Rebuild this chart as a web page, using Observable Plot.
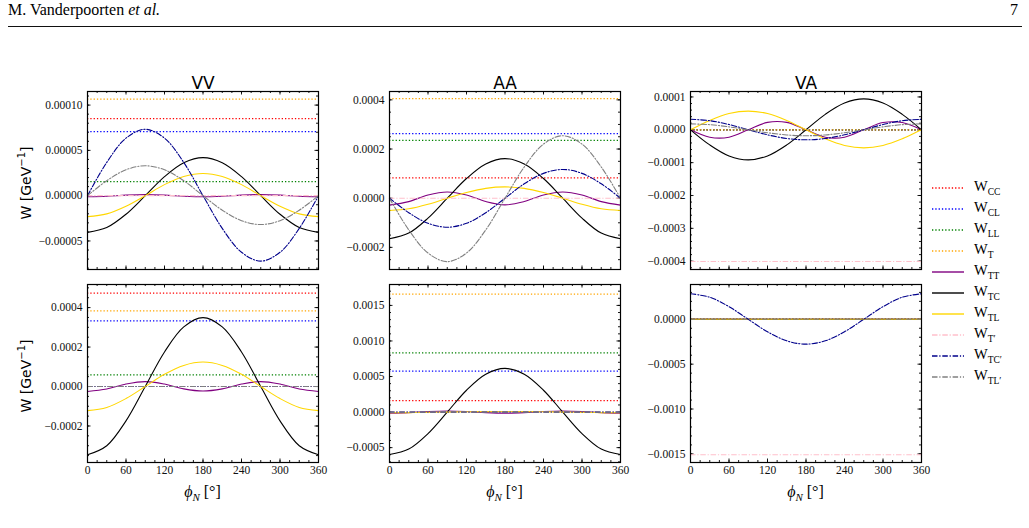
<!DOCTYPE html>
<html>
<head>
<meta charset="utf-8">
<script src="https://cdn.jsdelivr.net/npm/d3@7"></script>
<script src="https://cdn.jsdelivr.net/npm/@observablehq/plot@0.6"></script>
<style>
  body { margin: 0; background: #fff; }
  #page { position: relative; width: 1029px; height: 528px; overflow: hidden; background: #fff;
          font-family: "Liberation Serif", "DejaVu Serif", serif; color: #000; }
  .abs { position: absolute; white-space: nowrap; }
  .running { left: 8px; top: 1px; font-size: 16px; }
  .pageno { right: 11px; top: 1px; font-size: 16px; }
  .rule { left: 8px; top: 26px; width: 1014px; height: 0; border-top: 1.2px solid #111; }
  .ylab { font-family: "DejaVu Sans", sans-serif; font-size: 14px; transform: translate(-50%, -50%) rotate(-90deg); }
  .ylab sup { font-size: 10px; }
  .xlab { font-size: 16px; transform: translate(-50%, -50%); }
  .xlab sub { font-size: 11px; }
  .leg { left: 930px; height: 20px; display: flex; align-items: center; color: #000; }
  .leg svg { display: block; }
  .leg span { margin-left: 10px; font-size: 14.5px; color: #000; }
  .leg sub { font-size: 9.5px; }
</style>
</head>
<body>
<div id="page">
  <div class="abs running">M. Vanderpoorten <i>et al.</i></div>
  <div class="abs pageno">7</div>
  <div class="abs rule"></div>
</div>
<script>
// Azimuthal angle samples (degrees) for the φ_N-dependent terms
const phiDeg = [0, 30, 60, 90, 120, 150, 180, 210, 240, 270, 300, 330, 360];

// Structure-function series, in drawing order
const seriesKeys   = ["CC", "CL", "LL", "T", "TT", "TC", "TL", "T′", "TC′", "TL′"];
const seriesColors = ["red", "blue", "green", "orange", "purple", "black", "gold", "pink", "darkblue", "gray"];
const seriesStyle  = ["dot", "dot", "dot", "dot", "solid", "solid", "solid", "dashdot", "dashdot", "dashdot"];

// Values in units of 1e-6 GeV^-1; a single entry is a φ-independent level
const UNIT = 1e-6;

const vvUpper = [
  [85], [70.7], [15.4], [106.5],
  [-1.2, -0.6, 0.6, 1.2, 0.6, -0.6, -1.2, -0.6, 0.6, 1.2, 0.6, -0.6, -1.2],
  [-40.5, -35.2, -20.5, 0, 21, 36.4, 42, 36.4, 21, 0, -20.5, -35.2, -40.5],
  [-23.1, -20.1, -11.7, 0, 12.2, 21.2, 24.5, 21.2, 12.2, 0, -11.7, -20.1, -23.1],
  [0],
  [0, 36.7, 63.5, 73.3, 63.5, 36.7, 0, -36.1, -62.5, -72.2, -62.5, -36.1, 0],
  [0, 16.5, 28.6, 33, 28.6, 16.5, 0, -16, -27.6, -31.9, -27.6, -16, 0]
];

const aaUpper = [
  [83], [263], [235], [405],
  [-28, -14, 13, 25, 13, -13.5, -27, -13.5, 13, 25, 13, -14, -28],
  [-165, -142, -81, 0, 80, 139, 161, 139, 80, 0, -81, -142, -165],
  [-50, -43, -24.5, 0, 23, 40, 46, 40, 23, 0, -24.5, -43, -50],
  [0],
  [0, -59, -102, -118, -102, -59, 0, 58.5, 101, 117, 101, 58.5, 0],
  [0, -129, -223, -258, -223, -129, 0, 127, 220, 254, 220, 127, 0]
];

const vaUpper = [
  [0], [0], [0], [0],
  [0, -22.5, -22.5, 0, 22.5, 22.5, 0, -22.5, -22.5, 0, 22, 22, 0],
  [0, -46, -79.5, -91.5, -79.5, -46, 0, 47, 81.5, 94, 81.5, 47, 0],
  [0, 28.5, 49.5, 57, 49.5, 28.5, 0, -27.5, -47.6, -55, -47.6, -27.5, 0],
  [-401],
  [32, 27.7, 16, 0, -15.3, -26.5, -30.5, -26.5, -15.3, 0, 16, 27.7, 32],
  [18, 15.6, 9, 0, -9, -15.6, -18, -15.6, -9, 0, 9, 15.6, 18]
];

const vvLower = [
  [473], [333], [59], [383],
  [-25, -12.5, 12.5, 25, 12.5, -12, -23, -12, 12.5, 25, 12.5, -12.5, -25],
  [-346, -300, -174, 0, 175, 302, 349, 302, 175, 0, -174, -300, -346],
  [-122, -106, -61, 0, 62, 107, 124, 107, 62, 0, -61, -106, -122],
  [0], [0], [0]
];

const aaLower = [
  [162], [577], [832], [1660],
  [-15, -7.5, 7.5, 15, 7.5, -7.5, -15, -7.5, 7.5, 15, 7.5, -7.5, -15],
  [-596, -520, -302, 0, 307, 532, 614, 532, 307, 0, -302, -520, -596],
  [-8, -7, -4, 0, 4, 7, 8, 7, 4, 0, -4, -7, -8],
  [0], [0], [0]
];

const vaLower = [
  [0], [0], [0], [0], [0], [0], [0],
  [-1510],
  [285, 246, 141, 0, -139, -240, -277, -240, -139, 0, 141, 246, 285],
  [0]
];

// Axis ticks
const xTicks = [0, 60, 120, 180, 240, 300, 360];
const xMinorStep = 15;
const vvUpperTicks = [-0.00005, 0, 0.00005, 0.0001];
const aaUpperTicks = [-0.0002, 0, 0.0002, 0.0004];
const vaUpperTicks = [-0.0004, -0.0003, -0.0002, -0.0001, 0, 0.0001];
const vvLowerTicks = [-0.0002, 0, 0.0002, 0.0004];
const aaLowerTicks = [-0.0005, 0, 0.0005, 0.001, 0.0015];
const vaLowerTicks = [-0.0015, -0.001, -0.0005, 0];

const panelTitles = ["VV", "AA", "VA"];

// Frame geometry of the 3x2 grid
const colX = [87, 389, 690];
const rowY = [91, 284];
const FW = 231, FH = 178;
const ML = 80, MR = 10, MT = 40, MB = 50;

const lineWidth = {dot: 1.3, solid: 1.1, dashdot: 1.1};
const dashes = {dot: "1.3,2", solid: null, dashdot: "5.5,1.8,1.2,1.8"};
const tickFont = {fontFamily: "Liberation Serif, serif", fontSize: 11.5, fill: "#111"};

const page = document.getElementById("page");

function minorTicks(domain, step) {
  const lo = Math.ceil(domain[0] / step - 1e-9), hi = Math.floor(domain[1] / step + 1e-9);
  return d3.range(lo, hi + 1).map(k => k * step);
}

function addPanel({values, yDomain, yTicks, yMinorStep, yFormat, col, row}) {
  const marks = [];
  const xMinor = minorTicks([0, 360], xMinorStep);
  const yMinor = minorTicks(yDomain, yMinorStep);
  const tickStyle = {stroke: "black", strokeWidth: 0.9};
  // inward ticks on all four sides
  marks.push(
    Plot.tickX(xMinor, {...tickStyle, insetTop: FH - 2}),
    Plot.tickX(xMinor, {...tickStyle, insetBottom: FH - 2}),
    Plot.tickX(xTicks, {...tickStyle, insetTop: FH - 3.5}),
    Plot.tickX(xTicks, {...tickStyle, insetBottom: FH - 3.5}),
    Plot.tickY(yMinor, {...tickStyle, insetRight: FW - 2}),
    Plot.tickY(yMinor, {...tickStyle, insetLeft: FW - 2}),
    Plot.tickY(yTicks, {...tickStyle, insetRight: FW - 3.5}),
    Plot.tickY(yTicks, {...tickStyle, insetLeft: FW - 3.5})
  );
  values.forEach((v, i) => {
    const style = seriesStyle[i];
    const opts = {stroke: seriesColors[i], strokeWidth: lineWidth[style]};
    if (dashes[style]) opts.strokeDasharray = dashes[style];
    if (v.length === 1) {
      marks.push(Plot.ruleY([v[0] * UNIT], opts));
    } else {
      const table = phiDeg.map((p, j) => ({phi: p, w: v[j] * UNIT}));
      marks.push(Plot.line(table, {x: "phi", y: "w", curve: "catmull-rom", ...opts}));
    }
  });
  marks.push(Plot.frame({stroke: "black", strokeWidth: 1.2}));
  marks.push(Plot.axisY(yTicks, {tickSize: 0, tickPadding: 5, tickFormat: d3.format(yFormat), label: null, ...tickFont}));
  if (row === 1) {
    marks.push(Plot.axisX(xTicks, {tickSize: 0, tickPadding: 3, tickFormat: d => String(d), label: null, ...tickFont}));
  } else {
    marks.push(Plot.text([panelTitles[col]], {text: d => d, frameAnchor: "top", dy: -14.5,
      fontSize: 17, fontFamily: "DejaVu Sans, sans-serif", fill: "black"}));
  }
  const svg = Plot.plot({
    width: FW + ML + MR, height: FH + MT + MB,
    marginLeft: ML, marginRight: MR, marginTop: MT, marginBottom: MB,
    x: {domain: [0, 360], label: null, ...(row === 0 ? {axis: null} : {})},
    y: {domain: yDomain, label: null},
    style: {background: "transparent", overflow: "visible", color: "#111",
            fontFamily: "'Liberation Serif', serif", fontSize: "11.5px"},
    marks
  });
  const holder = document.createElement("div");
  holder.className = "abs";
  holder.style.left = (colX[col] - ML) + "px";
  holder.style.top = (rowY[row] - MT) + "px";
  holder.appendChild(svg);
  page.appendChild(holder);
}

addPanel({values: vvUpper, yDomain: [-8.15e-5, 1.15e-4], yTicks: vvUpperTicks, yMinorStep: 1e-5, yFormat: ".5f", col: 0, row: 0});
addPanel({values: aaUpper, yDomain: [-2.9e-4, 4.34e-4], yTicks: aaUpperTicks, yMinorStep: 5e-5, yFormat: ".4f", col: 1, row: 0});
addPanel({values: vaUpper, yDomain: [-4.253e-4, 1.166e-4], yTicks: vaUpperTicks, yMinorStep: 2e-5, yFormat: ".4f", col: 2, row: 0});
addPanel({values: vvLower, yDomain: [-3.85e-4, 5.17e-4], yTicks: vvLowerTicks, yMinorStep: 5e-5, yFormat: ".4f", col: 0, row: 1});
addPanel({values: aaLower, yDomain: [-7.09e-4, 1.794e-3], yTicks: aaLowerTicks, yMinorStep: 1e-4, yFormat: ".4f", col: 1, row: 1});
addPanel({values: vaLower, yDomain: [-1.596e-3, 3.88e-4], yTicks: vaLowerTicks, yMinorStep: 1e-4, yFormat: ".4f", col: 2, row: 1});

// Axis titles
rowY.forEach(y => {
  const d = document.createElement("div");
  d.className = "abs ylab";
  d.style.left = "25px";
  d.style.top = (y + FH / 2 + 3) + "px";
  d.innerHTML = "W [GeV<sup>−1</sup>]";
  page.appendChild(d);
});
colX.forEach(x => {
  const d = document.createElement("div");
  d.className = "abs xlab";
  d.style.left = (x + FW / 2) + "px";
  d.style.top = "493px";
  d.innerHTML = "<i>ϕ</i><sub><i>N</i></sub> [°]";
  page.appendChild(d);
});

// Legend
seriesKeys.forEach((key, i) => {
  const style = seriesStyle[i];
  const row = document.createElement("div");
  row.className = "abs leg";
  row.style.top = (187.7 + 21 * i - 10) + "px";
  const ns = "http://www.w3.org/2000/svg";
  const s = document.createElementNS(ns, "svg");
  s.setAttribute("width", 34); s.setAttribute("height", 20);
  const ln = document.createElementNS(ns, "line");
  ln.setAttribute("x1", 2); ln.setAttribute("x2", 34);
  ln.setAttribute("y1", 10); ln.setAttribute("y2", 10);
  ln.setAttribute("stroke", seriesColors[i]);
  ln.setAttribute("stroke-width", lineWidth[style] + 0.3);
  if (dashes[style]) ln.setAttribute("stroke-dasharray", dashes[style]);
  s.appendChild(ln);
  row.appendChild(s);
  const t = document.createElement("span");
  t.innerHTML = "W<sub>" + key + "</sub>";
  row.appendChild(t);
  page.appendChild(row);
});
</script>
</body>
</html>
